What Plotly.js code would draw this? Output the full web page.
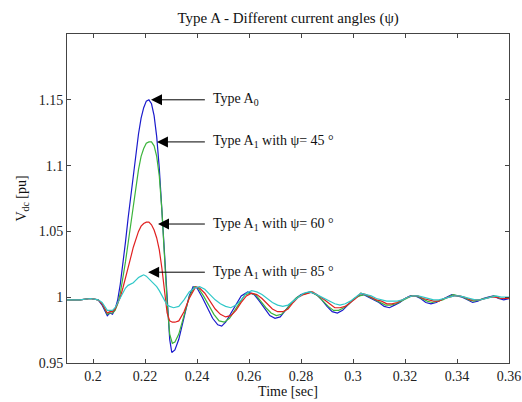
<!DOCTYPE html>
<html>
<head>
<meta charset="utf-8">
<script src="https://cdn.plot.ly/plotly-3.0.1.min.js"></script>
<style>html,body{margin:0;padding:0;background:#fff;}#chart{width:522px;height:402px;}</style>
</head>
<body>
<div id="chart"></div>
<script>
// Type A0
const tA0 = [0.19,0.195,0.199,0.202,0.2035,0.2045,0.2055,0.2065,0.2075,0.2085,0.2095,0.2105,0.2115,0.2125,0.2135,0.2145,0.2155,0.2165,0.2175,0.2185,0.2195,0.2205,0.2215,0.2225,0.2235,0.2245,0.2255,0.2265,0.2275,0.2285,0.2295,0.2303,0.2315,0.233,0.235,0.237,0.2385,0.240,0.242,0.244,0.246,0.248,0.2495,0.251,0.253,0.255,0.257,0.2595,0.262,0.264,0.266,0.268,0.270,0.272,0.274,0.276,0.278,0.280,0.2835,0.286,0.288,0.290,0.292,0.294,0.296,0.298,0.300,0.302,0.304,0.306,0.308,0.310,0.312,0.314,0.316,0.318,0.320,0.322,0.324,0.326,0.328,0.330,0.332,0.334,0.336,0.338,0.340,0.342,0.344,0.346,0.348,0.350,0.352,0.354,0.356,0.358,0.36];
const vA0 = [0.998,0.998,0.999,0.998,0.994,0.990,0.986,0.988,0.987,0.991,0.998,1.010,1.025,1.042,1.060,1.077,1.094,1.110,1.124,1.136,1.144,1.149,1.150,1.147,1.138,1.122,1.098,1.066,1.030,0.995,0.968,0.958,0.960,0.968,0.985,1.001,1.008,1.007,1.000,0.992,0.984,0.979,0.978,0.981,0.988,0.995,1.001,1.004,1.002,0.997,0.991,0.986,0.984,0.985,0.990,0.995,0.999,1.002,1.004,1.002,0.998,0.993,0.989,0.988,0.990,0.994,0.998,1.001,1.002,1.000,0.998,0.996,0.993,0.992,0.994,0.996,0.999,1.001,1.001,0.999,0.996,0.995,0.996,0.998,1.000,1.002,1.001,1.000,0.998,0.996,0.997,0.999,1.000,1.001,0.999,0.998,0.999];
// Type A1, psi = 45
const tA45 = [0.19,0.195,0.199,0.202,0.2035,0.2045,0.2055,0.2065,0.2075,0.2085,0.2095,0.2105,0.2115,0.2125,0.2135,0.2145,0.2155,0.2165,0.2175,0.2185,0.2195,0.2205,0.2215,0.2225,0.2235,0.2245,0.2255,0.2265,0.2275,0.2285,0.2295,0.2305,0.2315,0.233,0.235,0.237,0.239,0.2405,0.2425,0.2445,0.2465,0.2485,0.2505,0.2525,0.2545,0.2565,0.2585,0.2605,0.2625,0.2645,0.2665,0.2685,0.2705,0.2725,0.2745,0.2765,0.2785,0.2805,0.284,0.2865,0.2885,0.2905,0.2925,0.2945,0.2965,0.2985,0.3005,0.3025,0.3045,0.3065,0.3085,0.3105,0.3125,0.3145,0.3165,0.3185,0.3205,0.3225,0.3245,0.3265,0.3285,0.3305,0.3325,0.3345,0.3365,0.3385,0.3405,0.3425,0.3445,0.3465,0.3485,0.3505,0.3525,0.3545,0.3565,0.36];
const vA45 = [0.998,0.998,0.999,0.998,0.995,0.991,0.987,0.988,0.988,0.990,0.995,1.003,1.014,1.027,1.041,1.056,1.071,1.085,1.097,1.107,1.113,1.117,1.118,1.118,1.115,1.107,1.092,1.066,1.030,0.996,0.972,0.965,0.966,0.972,0.986,1.000,1.008,1.007,1.001,0.994,0.987,0.982,0.981,0.984,0.990,0.997,1.002,1.003,1.002,0.997,0.992,0.988,0.986,0.987,0.991,0.996,1.000,1.002,1.004,1.001,0.997,0.993,0.990,0.990,0.992,0.995,0.999,1.001,1.002,1.000,0.998,0.996,0.994,0.994,0.995,0.997,0.999,1.001,1.001,0.999,0.997,0.996,0.997,0.998,1.000,1.002,1.001,1.000,0.998,0.997,0.998,0.999,1.000,1.001,0.999,0.999];
// Type A1, psi = 60
const tA60 = [0.19,0.195,0.199,0.202,0.2035,0.2045,0.2055,0.2065,0.2075,0.2085,0.2095,0.2105,0.2115,0.2125,0.2135,0.2145,0.2155,0.2165,0.2175,0.2185,0.2195,0.2205,0.2215,0.2225,0.2235,0.2245,0.2255,0.2265,0.2275,0.2285,0.2295,0.2305,0.2315,0.233,0.235,0.237,0.2395,0.241,0.243,0.245,0.247,0.249,0.251,0.253,0.255,0.257,0.259,0.261,0.263,0.265,0.267,0.269,0.271,0.273,0.275,0.277,0.279,0.281,0.2845,0.287,0.289,0.291,0.293,0.295,0.297,0.299,0.301,0.303,0.305,0.307,0.309,0.311,0.313,0.315,0.317,0.319,0.321,0.323,0.325,0.327,0.329,0.331,0.333,0.335,0.337,0.339,0.341,0.343,0.345,0.347,0.349,0.351,0.353,0.355,0.357,0.36];
const vA60 = [0.998,0.998,0.999,0.998,0.995,0.992,0.988,0.989,0.989,0.991,0.995,1.000,1.007,1.014,1.022,1.030,1.038,1.045,1.050,1.054,1.056,1.057,1.057,1.055,1.051,1.045,1.036,1.022,1.005,0.988,0.982,0.981,0.981,0.982,0.989,0.999,1.008,1.007,1.003,0.997,0.991,0.987,0.985,0.986,0.990,0.996,1.001,1.003,1.002,0.999,0.995,0.991,0.989,0.989,0.991,0.996,1.000,1.002,1.004,1.001,0.998,0.995,0.992,0.992,0.993,0.996,0.999,1.003,1.002,1.000,0.998,0.997,0.995,0.995,0.996,0.998,1.000,1.001,1.001,0.999,0.998,0.997,0.997,0.999,1.000,1.001,1.001,1.000,0.998,0.998,0.998,0.999,1.000,1.000,0.999,0.999];
// Type A1, psi = 85
const tA85 = [0.19,0.195,0.199,0.202,0.2035,0.2045,0.2055,0.2065,0.2075,0.2085,0.2095,0.2105,0.2115,0.2125,0.2135,0.2145,0.2155,0.2165,0.2175,0.2185,0.2195,0.2205,0.2215,0.2225,0.2235,0.2245,0.2255,0.2265,0.2275,0.2285,0.2295,0.231,0.233,0.235,0.237,0.239,0.241,0.243,0.245,0.247,0.249,0.251,0.253,0.255,0.257,0.259,0.261,0.263,0.265,0.267,0.269,0.271,0.273,0.275,0.277,0.279,0.281,0.283,0.285,0.287,0.289,0.291,0.293,0.295,0.297,0.299,0.301,0.303,0.305,0.307,0.309,0.311,0.313,0.315,0.317,0.319,0.321,0.323,0.325,0.327,0.329,0.331,0.333,0.335,0.337,0.339,0.341,0.343,0.345,0.347,0.349,0.351,0.353,0.355,0.357,0.36];
const vA85 = [0.998,0.998,0.999,0.998,0.996,0.993,0.990,0.990,0.990,0.992,0.996,1.000,1.004,1.007,1.009,1.010,1.011,1.013,1.015,1.016,1.017,1.016,1.014,1.012,1.010,1.008,1.005,1.001,0.997,0.994,0.993,0.992,0.993,0.998,1.004,1.007,1.008,1.006,1.002,0.998,0.995,0.993,0.992,0.994,0.998,1.003,1.005,1.004,1.002,0.999,0.996,0.994,0.993,0.994,0.997,1.000,1.003,1.004,1.003,1.001,0.999,0.997,0.995,0.994,0.995,0.997,1.000,1.003,1.002,1.001,0.999,0.998,0.997,0.997,0.997,0.998,1.000,1.001,1.001,1.000,0.999,0.998,0.998,0.999,1.000,1.001,1.001,1.000,0.999,0.998,0.998,0.999,1.000,1.001,1.000,1.000];

const xTicks = [0.2,0.22,0.24,0.26,0.28,0.3,0.32,0.34,0.36];
const xTickText = ['0.2','0.22','0.24','0.26','0.28','0.3','0.32','0.34','0.36'];
const yTicks = [0.95,1,1.05,1.1,1.15];
const yTickText = ['0.95','1','1.05','1.1','1.15'];

const labels = ['Type A<sub>0</sub>','Type A<sub>1</sub> with ψ= 45 °','Type A<sub>1</sub> with ψ= 60 °','Type A<sub>1</sub> with ψ= 85 °'];
const arrowHeadX = [0.2223,0.2246,0.2250,0.2212];
const arrowHeadY = [1.150,1.118,1.0556,1.019];
const arrowTailX = 0.2436;
const labelX = 0.2452;

const colors = ['#1a1acc','#3cb43c','#e02020','#30c8c8'];
const font = 'Liberation Serif, Times New Roman, serif';

const traces = [
  {x:tA0,y:vA0},{x:tA45,y:vA45},{x:tA60,y:vA60},{x:tA85,y:vA85}
].map((d,i)=>({x:d.x,y:d.y,type:'scatter',mode:'lines',line:{color:colors[i],width:1.2},showlegend:false,hoverinfo:'skip'}));

const annotations = [];
for (let i=0;i<labels.length;i++){
  annotations.push({x:arrowHeadX[i],y:arrowHeadY[i],ax:arrowTailX,ay:arrowHeadY[i],axref:'x',ayref:'y',xref:'x',yref:'y',
    text:'',showarrow:true,arrowhead:2,arrowsize:2.2,arrowwidth:1,arrowcolor:'#000',standoff:0,startstandoff:0});
  annotations.push({x:labelX,y:arrowHeadY[i],xref:'x',yref:'y',text:labels[i],showarrow:false,xanchor:'left',yanchor:'middle',
    font:{family:font,size:14,color:'#111'}});
}

const axisCommon = {showgrid:false,zeroline:false,showline:true,linecolor:'#444',linewidth:1,mirror:'allticks',ticks:'inside',ticklen:4,tickcolor:'#444',tickfont:{family:font,size:14,color:'#222'}};

const layout = {
  width:522,height:402,
  margin:{l:67,r:13,t:34,b:39},
  paper_bgcolor:'#fff',plot_bgcolor:'#fff',
  title:{text:'Type A - Different current angles (ψ)',font:{family:font,size:15,color:'#111'},x:0.552,xanchor:'center',y:0.955,yanchor:'middle'},
  xaxis:Object.assign({},axisCommon,{range:[0.19,0.36],tickvals:xTicks,ticktext:xTickText,title:{text:'Time [sec]',font:{family:font,size:14,color:'#111'},standoff:0}}),
  yaxis:Object.assign({},axisCommon,{range:[0.95,1.2],tickvals:yTicks,ticktext:yTickText,title:{text:'V<sub>dc</sub> [pu]',font:{family:font,size:14,color:'#111'},standoff:8}}),
  annotations:annotations
};

Plotly.newPlot('chart',traces,layout,{staticPlot:true,displayModeBar:false});
</script>
</body>
</html>
